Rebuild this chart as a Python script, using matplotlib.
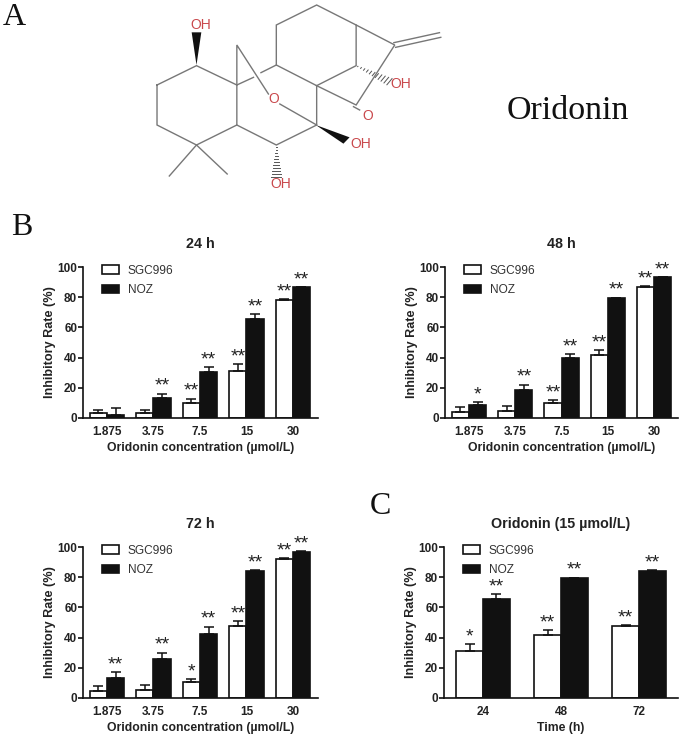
import matplotlib
matplotlib.use("Agg")
import matplotlib.pyplot as plt
from matplotlib.patches import Polygon
import numpy as np

W, H = 685, 740
MOL_X = 2.28
MOL_Y = 3.0

concs = ["1.875", "3.75", "7.5", "15", "30"]
times = ["24", "48", "72"]

sgc_24 = [3, 3, 10, 31, 78]
sgc_24_err = [2.3, 2, 2.8, 4.8, 0.7]
noz_24 = [2.3, 13.5, 30.5, 65.5, 86.5]
noz_24_err = [4, 2.7, 3.3, 3.3, 0.2]
sgc_24_stars = ["", "", "**", "**", "**"]
noz_24_stars = ["", "**", "**", "**", "**"]

sgc_48 = [4, 4.5, 10, 41.5, 86.5]
sgc_48_err = [3.5, 3.2, 2, 3.5, 0.8]
noz_48 = [8.5, 18.5, 40, 79.5, 93.2]
noz_48_err = [2.2, 3.6, 2.4, 0.3, 0.3]
sgc_48_stars = ["", "", "**", "**", "**"]
noz_48_stars = ["*", "**", "**", "**", "**"]

sgc_72 = [4.5, 5.2, 10.5, 47.5, 91.8]
sgc_72_err = [3.3, 3.2, 1.8, 3.2, 0.7]
noz_72 = [13, 25.5, 42.7, 83.8, 96.8]
noz_72_err = [4, 4.5, 4.5, 0.7, 0.3]
sgc_72_stars = ["", "", "*", "**", "**"]
noz_72_stars = ["**", "**", "**", "**", "**"]

sgc_15 = [31, 41.5, 47.5]
sgc_15_err = [4.8, 3.3, 0.7]
noz_15 = [65.5, 79.5, 83.8]
noz_15_err = [3.3, 0.2, 0.7]
sgc_15_stars = ["*", "**", "**"]
noz_15_stars = ["**", "**", "**"]

bonds = [
    [(358, 255), (448, 197), (540, 255), (540, 375), (448, 435), (358, 375), (358, 255)],
    [(540, 375), (630, 435), (722, 375), (722, 257), (630, 195), (630, 75), (722, 15), (812, 75), (812, 197), (722, 257)],
    [(812, 75), (900, 135), (812, 315), (722, 257)],
    [(540, 255), (540, 135), (612, 282)],
    [(540, 255), (578, 232)],
    [(595, 218), (630, 195)],
    [(638, 312), (722, 375)],
    [(386, 528), (448, 435), (518, 522)],
    [(898, 128), (1002, 98)],
    [(902, 142), (1005, 112)],
    [(806, 320), (820, 330)],
]
solid_wedges = [
    [(448, 195), (437, 97), (459, 97)],
    [(720, 375), (797, 412), (783, 431)],
]
hash_wedges = [((630, 437), (630, 532)), ((812, 197), (888, 245))]
atoms = [("OH", 458, 75), ("OH", 913, 253), ("O", 624, 297), ("O", 838, 347), ("OH", 822, 432), ("OH", 640, 552)]

plt.rcParams["font.family"] = ["Liberation Sans", "DejaVu Sans"]


def draw_panel(box, title, xlabel, ticks, xlim, width, sgc, sgc_err, noz, noz_err, sgc_stars, noz_stars):
    left, top, right, bottom = box
    ax = fig.add_axes([left / W, 1 - bottom / H, (right - left) / W, (bottom - top) / H])
    x = np.arange(len(ticks))
    err_kw = dict(ecolor="#111111", lw=1.1, capsize=3.6, capthick=1.1)
    ax.bar(x - width / 2, sgc, width, yerr=[np.zeros(len(x)), sgc_err], color="white", edgecolor="#111111",
           linewidth=1.2, error_kw=err_kw, label="SGC996")
    ax.bar(x + width / 2, noz, width, yerr=[np.zeros(len(x)), noz_err], color="#111111", edgecolor="#111111",
           linewidth=1.2, error_kw=err_kw, label="NOZ")
    for xs, vals, errs, stars in [(x - width / 2, sgc, sgc_err, sgc_stars), (x + width / 2, noz, noz_err, noz_stars)]:
        for xi, v, e, s in zip(xs, vals, errs, stars):
            ax.annotate(s, (xi, v + e), xytext=(0, 2), textcoords="offset points", ha="center", va="baseline",
                        fontsize=14, color="#222222", annotation_clip=False)
    ax.set_xlim(xlim)
    ax.set_ylim(0, 100)
    ax.set_yticks(range(0, 101, 20))
    ax.set_xticks(x)
    ax.set_xticklabels(ticks)
    ax.tick_params(axis="both", labelsize=8.5, width=1.2, length=3.6, pad=0.6, color="#111111")
    ax.tick_params(axis="x", length=0, pad=6)
    for lab in ax.get_xticklabels() + ax.get_yticklabels():
        lab.set_fontweight("bold")
        lab.set_color("#222222")
    for s in ["top", "right"]:
        ax.spines[s].set_visible(False)
    for s in ["left", "bottom"]:
        ax.spines[s].set_linewidth(1.2)
        ax.spines[s].set_color("#111111")
    ax.set_ylabel("Inhibitory Rate (%)", fontsize=9.1, fontweight="bold", color="#222222")
    ax.yaxis.set_label_coords(-0.115, 0.5)
    ax.set_xlabel(xlabel, fontsize=8.8, fontweight="bold", color="#222222", labelpad=3)
    ax.set_title(title, fontsize=10.3, fontweight="bold", color="#222222", pad=14)
    ax.legend(loc="upper left", bbox_to_anchor=(0.08, 1.015), frameon=False, fontsize=8.6, handlelength=1.43,
              handleheight=0.7, handletextpad=0.75, labelspacing=0.63, borderpad=0, borderaxespad=0,
              labelcolor="#333333")
    return ax


fig = plt.figure(figsize=(W / 100, H / 100), dpi=100)

bg = fig.add_axes([0, 0, 1, 1])
bg.set_xlim(0, W * MOL_X)
bg.set_ylim(H * MOL_Y, 0)
bg.axis("off")
for b in bonds:
    pts = np.array(b)
    bg.plot(pts[:, 0], pts[:, 1], color="#777777", lw=1.0, solid_joinstyle="miter")
for w in solid_wedges:
    bg.add_patch(Polygon(w, closed=True, facecolor="#111111", edgecolor="none"))
for (x0, y0), (x1, y1) in hash_wedges:
    d = np.array([x1 - x0, y1 - y0], dtype=float)
    n = np.array([-d[1], d[0]]) / np.hypot(*d)
    for t in np.linspace(0.05, 1, 11):
        c = np.array([x0, y0]) + d * t
        h = 11 * t
        bg.plot([c[0] - n[0] * h, c[0] + n[0] * h], [c[1] - n[1] * h, c[1] + n[1] * h], color="#555555", lw=0.7)
for txt, ax_x, ax_y in atoms:
    bg.text(ax_x, ax_y, txt, color="#c9484c", fontsize=10, ha="center", va="center")

serif = ["Liberation Serif", "DejaVu Serif"]
bg.text(14 * MOL_X, 25 * MOL_Y, "A", family=serif, fontsize=23, ha="center", va="baseline", color="#111111")
bg.text(568 * MOL_X, 119 * MOL_Y, "Oridonin", family=serif, fontsize=24.5, ha="center", va="baseline", color="#111111")
bg.text(22 * MOL_X, 235 * MOL_Y, "B", family=serif, fontsize=23, ha="center", va="baseline", color="#111111")
bg.text(380 * MOL_X, 514 * MOL_Y, "C", family=serif, fontsize=23, ha="center", va="baseline", color="#111111")

conc_label = "Oridonin concentration (µmol/L)"
draw_panel((83, 267, 318, 418), "24 h", conc_label, concs, (-0.516, 4.54), 0.37,
           sgc_24, sgc_24_err, noz_24, noz_24_err, sgc_24_stars, noz_24_stars)
draw_panel((445, 267, 678, 418), "48 h", conc_label, concs, (-0.52, 4.52), 0.37,
           sgc_48, sgc_48_err, noz_48, noz_48_err, sgc_48_stars, noz_48_stars)
draw_panel((83, 547, 318, 698), "72 h", conc_label, concs, (-0.516, 4.54), 0.37,
           sgc_72, sgc_72_err, noz_72, noz_72_err, sgc_72_stars, noz_72_stars)
draw_panel((444, 547, 678, 698), "Oridonin (15 µmol/L)", "Time (h)", times, (-0.5, 2.5), 0.34,
           sgc_15, sgc_15_err, noz_15, noz_15_err, sgc_15_stars, noz_15_stars)

fig.savefig("out.png", dpi=100)
